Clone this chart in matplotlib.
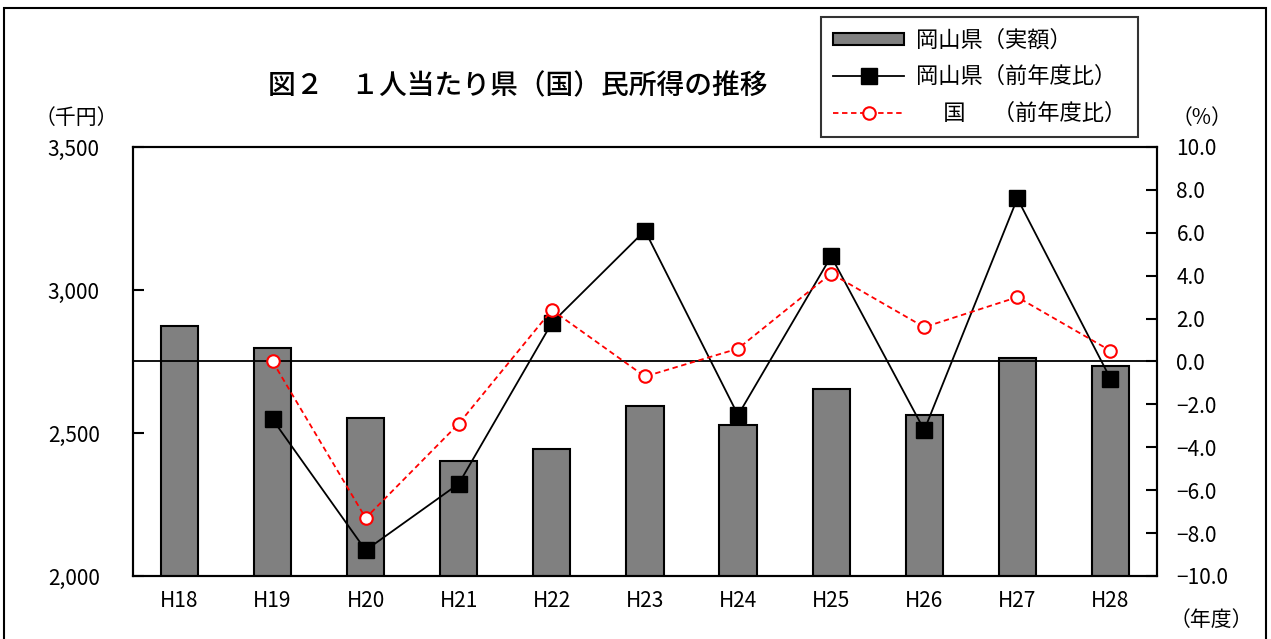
import numpy as np
import matplotlib.pyplot as plt
from matplotlib.patches import Rectangle

plt.rcParams['font.family'] = ['Noto Sans CJK JP', 'DejaVu Sans']

years = ['H18', 'H19', 'H20', 'H21', 'H22', 'H23', 'H24', 'H25', 'H26', 'H27', 'H28']
income = [2874, 2797, 2552, 2402, 2444, 2594, 2528, 2654, 2563, 2762, 2734]
okayama_rate = [np.nan, -2.7, -8.8, -5.7, 1.8, 6.1, -2.5, 4.9, -3.2, 7.6, -0.8]
national_rate = [np.nan, 0.0, -7.3, -2.9, 2.4, -0.7, 0.6, 4.1, 1.6, 3.0, 0.5]

x = np.arange(len(years))

fig = plt.figure(figsize=(12.71, 6.39), dpi=100)
ax = fig.add_axes([0.1046, 0.0986, 0.8057, 0.6714])
ax2 = ax.twinx()

bars = ax.bar(x, income, width=0.4, color='#808080', edgecolor='black',
              linewidth=1.5, label='岡山県（実額）', zorder=2)
ax.set_ylim(2000, 3500)
ax.set_yticks([2000, 2500, 3000, 3500])
ax.set_yticklabels(['2,000', '2,500', '3,000', '3,500'])
ax.set_xlim(-0.5, len(years) - 0.5)
ax.set_xticks(x)
ax.set_xticklabels(years)
ax.tick_params(axis='x', length=0, labelsize=15, pad=10)
ax.tick_params(axis='y', direction='in', length=8, width=1.5, labelsize=15, pad=24)

ax2.set_ylim(-10, 10)
ax2.set_yticks(np.arange(-10, 10.1, 2))
ax2.set_yticklabels([f'{v:.1f}'.replace('-', '−') for v in np.arange(-10, 10.1, 2)])
ax2.tick_params(axis='y', direction='in', length=8, width=1.5, labelsize=15, pad=14)
ax2.axhline(0, color='black', linewidth=1.3, zorder=1)

l1, = ax2.plot(x, okayama_rate, color='black', linewidth=1.3, marker='s',
               markersize=11, markerfacecolor='black', label='岡山県（前年度比）', zorder=3)
l2, = ax2.plot(x, national_rate, color='red', linewidth=1.3, linestyle=(0, (3, 2)),
               marker='o', markersize=9, markerfacecolor='white', markeredgecolor='red',
               markeredgewidth=1.5, label='　 国　 （前年度比）', zorder=4)

for a in (ax, ax2):
    for s in a.spines.values():
        s.set_linewidth(1.5)

fig.text(0.407, 0.866, '図２　１人当たり県（国）民所得の推移', fontsize=20,
         fontweight='medium', ha='center', va='center')
fig.text(0.060, 0.816, '（千円）', fontsize=15, ha='center', va='center')
fig.text(0.946, 0.816, '（%）', fontsize=15, ha='center', va='center')
fig.text(0.953, 0.030, '（年度）', fontsize=15, ha='center', va='center')

leg = fig.legend([bars, l1, l2], [bars.get_label(), l1.get_label(), l2.get_label()],
                 loc='upper left', bbox_to_anchor=(0.646, 0.974), fontsize=16,
                 frameon=True, fancybox=False, edgecolor='black', handlelength=3.2,
                 handleheight=0.45, handletextpad=0.5, labelspacing=0.6,
                 borderpad=0.55, borderaxespad=0)
leg.get_frame().set_linewidth(1.5)

fig.patches.append(Rectangle((0.0035, -0.01), 0.9925, 0.9975, transform=fig.transFigure,
                             fill=False, edgecolor='black', linewidth=1.5))

fig.savefig('out.png', dpi=100)
